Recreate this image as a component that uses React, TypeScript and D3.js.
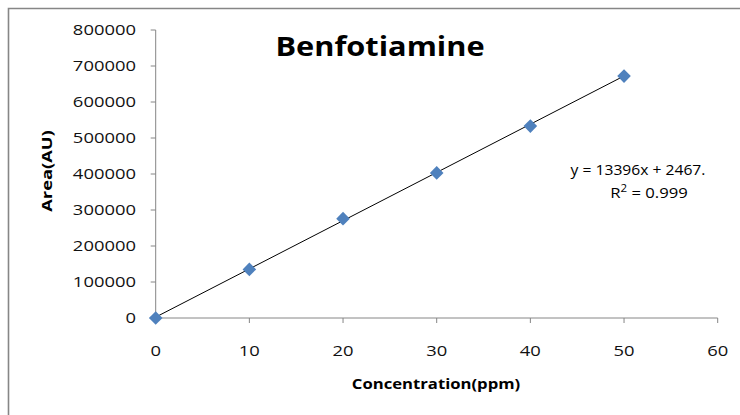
import { useEffect, useRef } from "react";
import * as d3 from "d3";

// calibration data
const concentration = [0, 10, 20, 30, 40, 50];
const area = [0, 135000, 276000, 403000, 533000, 672000];
const xTicks = [0, 10, 20, 30, 40, 50, 60];
const yTicks = [0, 100000, 200000, 300000, 400000, 500000, 600000, 700000, 800000];
const slope = 13396;
const intercept = 2467;
const equationLines = ["y = 13396x + 2467.", "R² = 0.999"];

const W = 740;
const H = 415;
const FONT = "'Open Sans', 'Liberation Sans', sans-serif";

const App = () => {
  const ref = useRef(null);

  useEffect(() => {
    document.body.style.margin = "0";
    const svg = d3.select(ref.current).html("");

    const x = d3.scaleLinear().domain([0, 60]).range([155.7, 717.7]);
    const y = d3.scaleLinear().domain([0, 800000]).range([318, 30]);

    // stretched text, the original font is wider than what we have
    const label = (tx, ty, str, opts: any = {}) =>
      svg
        .append("text")
        .attr("transform", `translate(${tx},${ty})${opts.rot ? " rotate(-90)" : ""} scale(${opts.sx || 1.2},1)`)
        .attr("text-anchor", opts.anchor || "middle")
        .attr("font-family", FONT)
        .attr("font-size", opts.size || 14.5)
        .attr("font-weight", opts.bold ? "bold" : "normal")
        .attr("fill", opts.fill || "#000")
        .text(str);

    // outer chart border (only top and left show)
    svg
      .append("path")
      .attr("d", `M8.5,${H} V8.5 H${W}`)
      .attr("fill", "none")
      .attr("stroke", "#868686")
      .attr("stroke-width", 1.6);

    // axes
    const axisColor = "#868686";
    svg
      .append("line")
      .attr("x1", x(0)).attr("x2", x(0))
      .attr("y1", y(800000)).attr("y2", y(0))
      .attr("stroke", axisColor);
    svg
      .append("line")
      .attr("x1", x(0)).attr("x2", x(60))
      .attr("y1", y(0)).attr("y2", y(0))
      .attr("stroke", axisColor);

    yTicks.forEach((t) => {
      svg
        .append("line")
        .attr("x1", x(0) - 5).attr("x2", x(0))
        .attr("y1", y(t)).attr("y2", y(t))
        .attr("stroke", axisColor);
      label(136, y(t) + 5, String(t), { anchor: "end", sx: 1.27, size: 14.5, fill: "#111" });
    });

    xTicks.forEach((t) => {
      svg
        .append("line")
        .attr("x1", x(t)).attr("x2", x(t))
        .attr("y1", y(0)).attr("y2", y(0) + 5)
        .attr("stroke", axisColor);
      label(x(t), 356, String(t), { sx: 1.27, size: 14.5, fill: "#111" });
    });

    // trendline from the fitted equation
    const line = d3
      .line()
      .x((d) => x(d[0]))
      .y((d) => y(d[1]));
    svg
      .append("path")
      .attr("d", line([0, 50].map((c) => [c, slope * c + intercept])))
      .attr("fill", "none")
      .attr("stroke", "#000")
      .attr("stroke-width", 1);

    // diamond markers
    const diamond = d3.symbol().type(d3.symbolDiamond2 || d3.symbolDiamond).size(118);
    svg
      .selectAll(".pt")
      .data(concentration)
      .enter()
      .append("path")
      .attr("class", "pt")
      .attr("d", diamond)
      .attr("transform", (d, i) => `translate(${x(d)},${y(area[i])})`)
      .attr("fill", "#4F81BD");

    // titles
    label(380, 56, "Benfotiamine", { bold: true, size: 26.5, sx: 1.16 });
    label(436, 389, "Concentration(ppm)", { bold: true, size: 14.5, sx: 1.15 });
    label(52, 171, "Area(AU)", { bold: true, size: 15, sx: 1.22, rot: true });

    // equation
    label(638, 175, equationLines[0], { size: 14.5, sx: 1.08 });
    const r2 = svg
      .append("text")
      .attr("transform", `translate(649,198) scale(1.15,1)`)
      .attr("text-anchor", "middle")
      .attr("font-family", FONT)
      .attr("font-size", 14.5)
      .attr("fill", "#000");
    r2.append("tspan").text("R");
    r2.append("tspan").attr("font-size", 10).attr("dy", -6).text("2");
    r2.append("tspan").attr("dy", 6).text(" = 0.999");
  }, []);

  return (
    <div style={{ width: W, height: H }}>
      <svg ref={ref} width={W} height={H} style={{ display: "block", background: "#fff" }}></svg>
    </div>
  );
};

export default App;
